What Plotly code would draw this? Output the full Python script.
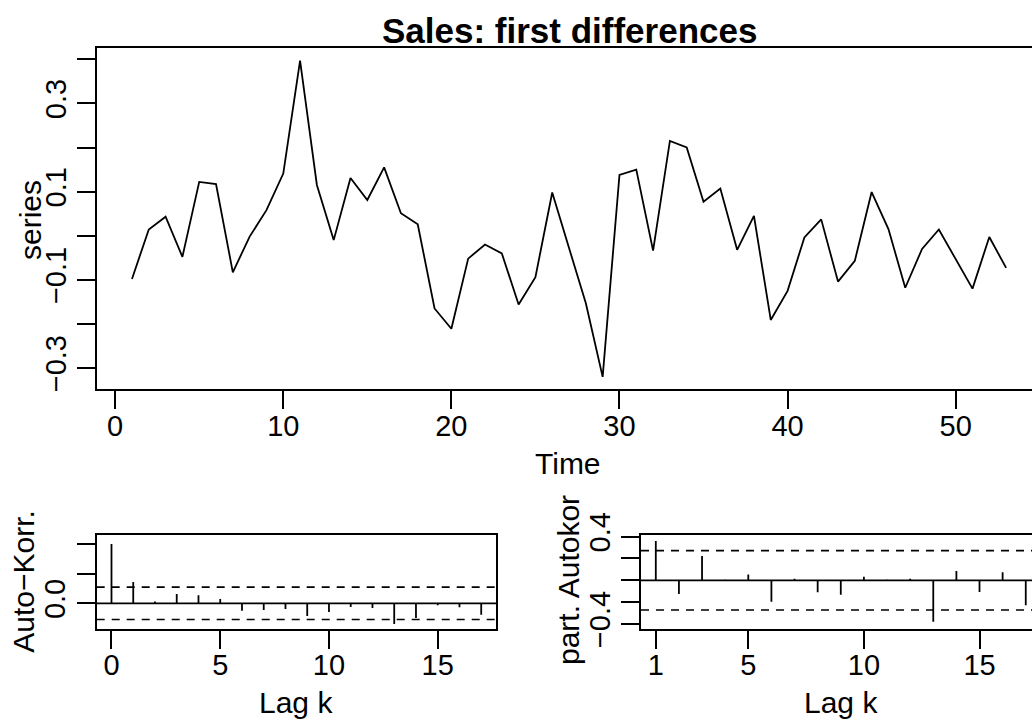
import plotly.graph_objects as go

# ---- data ----
time_idx = list(range(1, 54))
series = [-0.098, 0.014, 0.043, -0.048, 0.122, 0.117, -0.083, -0.002, 0.058, 0.141,
          0.397, 0.115, -0.010, 0.131, 0.081, 0.155, 0.051, 0.026, -0.165, -0.211,
          -0.052, -0.020, -0.040, -0.156, -0.094, 0.098, -0.028, -0.153, -0.320, 0.138,
          0.150, -0.034, 0.215, 0.200, 0.077, 0.107, -0.032, 0.045, -0.191, -0.125,
          -0.004, 0.037, -0.104, -0.057, 0.099, 0.015, -0.118, -0.030, 0.014, -0.053,
          -0.120, -0.003, -0.073]

acf_lags = list(range(0, 18))
acf_vals = [1.0, 0.358, 0.028, 0.157, 0.134, 0.072, -0.124, -0.113, -0.096, -0.214,
            -0.146, -0.062, -0.079, -0.348, -0.247, -0.034, -0.067, -0.192]

pacf_lags = list(range(1, 18))
pacf_vals = [0.36, -0.126, 0.223, 0.005, 0.052, -0.196, 0.015, -0.110, -0.132, 0.033,
             0.005, 0.013, -0.380, 0.085, -0.107, 0.073, -0.230]

ci = 0.272

top_xticks = [0, 10, 20, 30, 40, 50]
top_yticks = [-0.3, -0.2, -0.1, 0.0, 0.1, 0.2, 0.3, 0.4]
top_ytext = ["\u22120.3", "", "\u22120.1", "", "0.1", "", "0.3", ""]
acf_xticks = [0, 5, 10, 15]
acf_yticks = [0.0, 0.5, 1.0]
acf_ytext = ["0.0", "", ""]
pacf_xticks = [1, 5, 10, 15]
pacf_yticks = [-0.4, -0.2, 0.0, 0.2, 0.4]
pacf_ytext = ["\u22120.4", "", "", "", "0.4"]

W, H = 1032, 720
FONT = "Liberation Sans, Arial, Helvetica, sans-serif"
FS = 29
FT = 30
LW = 1.8


def px(x):
    return x / W


def py(y):
    return 1 - y / H


def stems(lags, vals):
    xs, ys = [], []
    for k, v in zip(lags, vals):
        xs += [k, k, None]
        ys += [0, v, None]
    return xs, ys


fig = go.Figure()

fig.add_trace(go.Scatter(x=time_idx, y=series, mode="lines",
                         line=dict(color="black", width=LW),
                         xaxis="x", yaxis="y", showlegend=False, hoverinfo="skip"))

ax, ay = stems(acf_lags, acf_vals)
fig.add_trace(go.Scatter(x=ax, y=ay, mode="lines", line=dict(color="black", width=LW),
                         xaxis="x2", yaxis="y2", showlegend=False, hoverinfo="skip"))

bx, by = stems(pacf_lags, pacf_vals)
fig.add_trace(go.Scatter(x=bx, y=by, mode="lines", line=dict(color="black", width=LW),
                         xaxis="x3", yaxis="y3", showlegend=False, hoverinfo="skip"))

shapes = []
for xr, yr in (("x2", "y2"), ("x3", "y3")):
    shapes.append(dict(type="line", xref=xr + " domain", yref=yr, x0=0, x1=1, y0=0, y1=0,
                       line=dict(color="black", width=LW)))
    for c in (ci, -ci):
        shapes.append(dict(type="line", xref=xr + " domain", yref=yr, x0=0, x1=1, y0=c, y1=c,
                           line=dict(color="black", width=LW * 0.85, dash="8px,7px")))

axis_common = dict(showgrid=False, zeroline=False, showline=True, linecolor="black",
                   linewidth=LW, ticks="outside", ticklen=18, tickwidth=LW, automargin=False,
                   tickcolor="black", tickfont=dict(family=FONT, size=FS, color="black"))
xaxis_extra = dict(ticklabelstandoff=-8)

fig.update_layout(
    width=W, height=H, margin=dict(l=0, r=0, t=0, b=0, pad=0, autoexpand=False),
    paper_bgcolor="white", plot_bgcolor="white",
    shapes=shapes,
    xaxis=dict(domain=[px(97), 1], range=[-1.08, 54.54], anchor="y", mirror=True,
               tickvals=top_xticks, **axis_common, **xaxis_extra),
    yaxis=dict(domain=[py(389), py(48)], range=[-0.3476, 0.4256], anchor="x",
               tickvals=top_yticks, ticktext=top_ytext, tickangle=-90, **axis_common),
    xaxis2=dict(domain=[px(96.7), px(496)], range=[-0.68, 17.68], anchor="y2", mirror=True,
                tickvals=acf_xticks, **axis_common, **xaxis_extra),
    yaxis2=dict(domain=[py(628.7), py(534.7)], range=[-0.428, 1.155], anchor="x2", mirror=True,
                tickvals=acf_yticks, ticktext=acf_ytext, tickangle=-90, **axis_common),
    xaxis3=dict(domain=[px(641), 1], range=[0.36, 17.27], anchor="y3", mirror=True,
                tickvals=pacf_xticks, **axis_common, **xaxis_extra),
    yaxis3=dict(domain=[py(628.7), py(534.7)], range=[-0.444, 0.418], anchor="x3",
                tickvals=pacf_yticks, ticktext=pacf_ytext, tickangle=-90, **axis_common),
)

tfont = dict(family=FONT, size=FT, color="black")
ann = [
    dict(text="<b>Sales: first differences</b>", x=px(569), y=py(31), xanchor="center",
         yanchor="middle", font=dict(family=FONT, size=35, color="black")),
    dict(text="Time", x=px(568), y=py(463), xanchor="center", yanchor="middle", font=tfont),
    dict(text="series", x=px(30), y=py(220), xanchor="center", yanchor="middle",
         textangle=-90, font=tfont),
    dict(text="Lag k", x=px(296), y=py(702), xanchor="center", yanchor="middle", font=tfont),
    dict(text="Auto\u2212Korr.", x=px(24), y=py(581.7), xanchor="center", yanchor="middle",
         textangle=-90, font=tfont),
    dict(text="Lag k", x=px(841), y=py(702), xanchor="center", yanchor="middle", font=tfont),
    dict(text="part. Autokor", x=px(568), y=py(667), xanchor="center", yanchor="bottom",
         textangle=-90, font=tfont),
]
for a in ann:
    a.update(xref="paper", yref="paper", showarrow=False)
fig.update_layout(annotations=ann)

fig.write_html("out.html")
